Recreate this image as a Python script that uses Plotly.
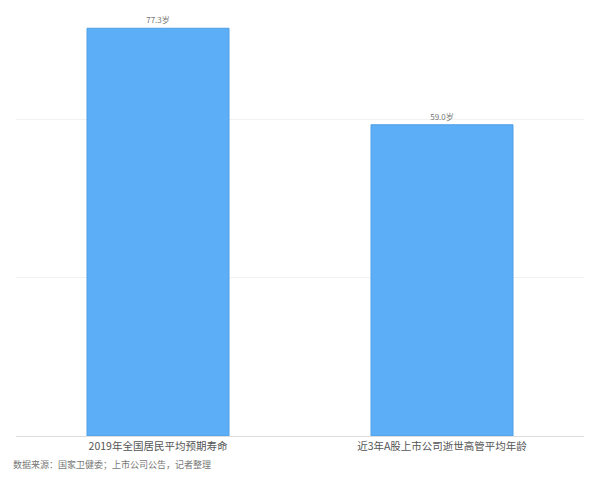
import plotly.graph_objects as go

categories = ["2019年全国居民平均预期寿命", "近3年A股上市公司逝世高管平均年龄"]
ages = [77.3, 59.0]
labels = ["77.3岁", "59.0岁"]
source_note = "数据来源：国家卫健委；上市公司公告，记者整理"

font = "Noto Sans CJK SC"

fig = go.Figure()
fig.add_trace(go.Bar(
    x=categories, y=ages, text=labels, textposition="outside",
    textfont=dict(size=8, color="#777777", family=font),
    cliponaxis=False, width=0.5,
    marker=dict(color="#5caef7", line=dict(color="#4f9fe6", width=1)),
))

# page body has an 8px margin, so the figure is a bit smaller than the window
fig.update_layout(
    width=584, height=466,
    margin=dict(l=8, r=8, t=6, b=38),
    plot_bgcolor="white", paper_bgcolor="white",
    showlegend=False,
    font=dict(family=font),
    annotations=[dict(
        text=source_note, xref="paper", yref="paper", x=-0.008, y=-0.047,
        xanchor="left", yanchor="top", showarrow=False,
        font=dict(size=9, color="#777777", family=font),
    )],
)
fig.update_xaxes(
    showline=True, linecolor="#dddddd", linewidth=1,
    tickfont=dict(size=10.5, color="#555555", family=font), ticks="",
)
fig.update_yaxes(
    range=[0, 80], dtick=30, showticklabels=False,
    gridcolor="#f2f2f2", zeroline=False,
)

fig.write_html("out.html")
